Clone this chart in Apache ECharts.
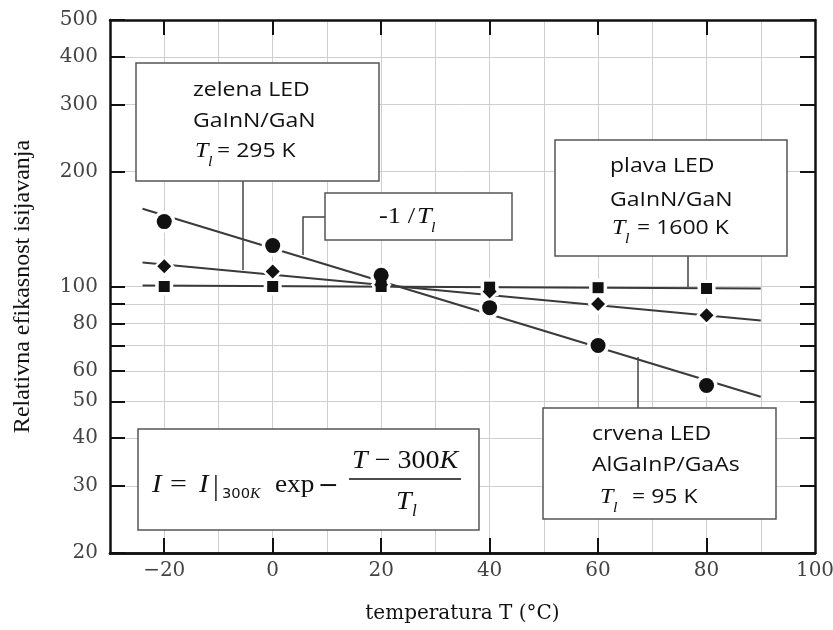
<!DOCTYPE html>
<html><head><meta charset="utf-8">
<script src="https://cdn.jsdelivr.net/npm/echarts@6/dist/echarts.min.js"></script>
<style>html,body{margin:0;padding:0;background:#fff}#c{width:833px;height:630px}</style>
</head><body><div id="c"></div>
<script>
// ---- data ----
const temps = [-20, 0, 20, 40, 60, 80];
const redLED = [148, 128, 107, 88, 70, 55];          // circles, Tl = 95 K
const greenLED = [113, 109.5, 101, 97, 90, 84];      // diamonds, Tl = 295 K
const blueLED = [100, 100, 100, 99.6, 99.3, 98.8];   // squares, Tl = 1600 K
const fitT = [-24, 90];
const redFit = [160, 51.4];
const greenFit = [115.6, 81.4];
const blueFit = [100.6, 98.8];
const xTickLabels = [-20, 0, 20, 40, 60, 80, 100];
const xMajorTicks = [-20, 0, 20, 40, 60, 80];
const yTickLabels = [20, 30, 40, 50, 60, 80, 100, 200, 300, 400, 500];
const yGridValues = [20, 30, 40, 50, 60, 70, 80, 90, 100, 200, 300, 400, 500];

const pair = (xs, ys) => xs.map((x, i) => [x, ys[i]]);
const INK = '#111';
const SX = 1.15;

function fit(ys) {
  return {type: 'line', data: pair(fitT, ys), symbol: 'none', z: 2, silent: true,
          lineStyle: {color: '#3a3a3a', width: 2}};
}
function halo(ys, symbol, size) {
  return {type: 'scatter', data: pair(temps, ys), symbol, symbolSize: size + 7, z: 3, silent: true,
          itemStyle: {color: '#fff', opacity: 1}};
}
function mark(ys, symbol, size) {
  return {type: 'scatter', data: pair(temps, ys), symbol, symbolSize: size, z: 4,
          itemStyle: {color: INK, opacity: 1}};
}

function txt(x, y, s, o) {
  o = o || {};
  return {type: 'text', x, y, z: 102, scaleX: o.sx === undefined ? SX : o.sx,
    style: {x: 0, y: 0, text: s, fontFamily: o.font || 'Open Sans', fontSize: o.size || 20,
            fontStyle: o.italic ? 'italic' : 'normal', fill: INK,
            align: o.align || 'left', verticalAlign: 'middle', rich: o.rich}};
}
function box(x, y, w, h) {
  return {type: 'rect', z: 100, shape: {x, y, width: w, height: h},
          style: {fill: '#fff', stroke: '#555', lineWidth: 1.5}};
}
function pl(points) {
  return {type: 'polyline', z: 99, shape: {points}, style: {stroke: '#444', lineWidth: 1.5, fill: null}};
}
const serif = 'Liberation Serif';
function Tl(x, y, size) {
  size = size || 21;
  return [txt(x, y, 'T', {font: serif, size, italic: true}),
          txt(x + Math.round(size * 0.62), y + 11, 'l', {font: serif, size: 14, italic: true})];
}

const yAxisBase = {
  type: 'log', logBase: 10, min: 20, max: 500,
  axisLine: {show: true, onZero: false, lineStyle: {color: INK, width: 2.5}},
  axisTick: {show: true, inside: true, length: 15, customValues: yGridValues, lineStyle: {color: INK, width: 2}},
  minorTick: {show: false}, minorSplitLine: {show: false}
};
const xTop = {
  type: 'value', min: -30, max: 100,
  axisLine: {show: true, onZero: false, lineStyle: {color: INK, width: 2.5}},
  axisTick: {show: true, inside: true, length: 15, customValues: xMajorTicks, lineStyle: {color: INK, width: 2}},
  axisLabel: {show: false}, splitLine: {show: false}
};

const chart = echarts.init(document.getElementById('c'));
chart.setOption({
  animation: false,
  backgroundColor: '#fff',
  grid: {left: 110, right: 18, top: 20, bottom: 77, containLabel: false, outerBoundsMode: 'none'},
  xAxis: [
    {type: 'value', min: -30, max: 100, interval: 10, position: 'bottom',
     axisLine: {show: true, onZero: false, lineStyle: {color: INK, width: 2.5}},
     axisTick: {show: false},
     splitLine: {show: true, lineStyle: {color: '#cfcfcf', width: 1}},
     axisLabel: {customValues: xTickLabels, formatter: v => String(v).replace('-', '\u2212'),
                 color: '#444', fontFamily: 'DejaVu Serif', fontSize: 20, margin: 8},
     name: 'temperatura T (°C)', nameLocation: 'middle', nameGap: 51,
     nameTextStyle: {fontFamily: 'DejaVu Serif', fontSize: 20, color: INK}},
    Object.assign({position: 'bottom'}, xTop),
    Object.assign({position: 'top'}, xTop)
  ],
  yAxis: [
    Object.assign({}, yAxisBase, {
      position: 'left',
      splitLine: {show: true, lineStyle: {color: '#cfcfcf', width: 1}},
      axisLabel: {customValues: yTickLabels, color: '#444', fontFamily: 'DejaVu Serif', fontSize: 20, margin: 12},
      name: 'Relativna efikasnost isijavanja', nameLocation: 'middle', nameGap: 75, nameRotate: 90,
      nameTextStyle: {fontFamily: serif, fontSize: 24, color: INK}
    }),
    Object.assign({}, yAxisBase, {position: 'right', axisLabel: {show: false}, splitLine: {show: false}})
  ],
  series: [
    fit(blueFit), fit(greenFit), fit(redFit),
    halo(blueLED, 'rect', 11), halo(greenLED, 'diamond', 14), halo(redLED, 'circle', 15),
    mark(blueLED, 'rect', 11), mark(greenLED, 'diamond', 14), mark(redLED, 'circle', 15)
  ],
  graphic: [
    // connectors
    pl([[243, 181], [243, 270]]),
    pl([[325, 217], [303, 217], [303, 255]]),
    pl([[688, 256], [688, 287]]),
    pl([[638, 408], [638, 357]]),
    // boxes
    box(136, 63, 243, 118),
    box(325, 193, 187, 47),
    box(555, 140, 232, 116),
    box(543, 408, 233, 111),
    box(138, 429, 341, 101),
    // zelena
    txt(193, 90, 'zelena LED'), txt(193, 121, 'GaInN/GaN'),
    ...Tl(195, 151), txt(217, 151, '= 295 K'),
    // -1/Tl
    txt(379, 217, '-1 / ', {font: serif, size: 23}),
    ...Tl(417, 217, 23),
    // plava
    txt(610, 166, 'plava LED'), txt(610, 200, 'GaInN/GaN'),
    ...Tl(612, 228), txt(637, 228, '= 1600 K'),
    // crvena
    txt(592, 434, 'crvena LED'), txt(592, 465, 'AlGaInP/GaAs'),
    ...Tl(600, 497), txt(632, 497, '= 95 K'),
    // formula
    txt(152, 485, 'I', {font: serif, size: 26, italic: true, sx: 1.1}),
    txt(170, 485, '=', {font: serif, size: 26, sx: 1.15}),
    txt(199, 485, 'I', {font: serif, size: 26, italic: true, sx: 1.1}),
    txt(213, 487, '|', {font: serif, size: 29, sx: 1}),
    txt(222, 494, '{a|300}{b|K}', {sx: 1.05, rich: {
      a: {fontFamily: 'DejaVu Sans', fontSize: 14, fill: INK},
      b: {fontFamily: serif, fontSize: 15, fontStyle: 'italic', fill: INK}}}),
    txt(275, 485, 'exp', {font: serif, size: 26, sx: 1.05}),
    txt(318, 486, '\u2212', {font: 'DejaVu Serif', size: 25, sx: 1}),
    {type: 'line', z: 102, shape: {x1: 349, y1: 479, x2: 461, y2: 479}, style: {stroke: INK, lineWidth: 1.5}},
    txt(352, 461, '{i|T} \u2212 300{i|K}', {sx: 1.08, rich: {
      i: {fontFamily: serif, fontSize: 26, fontStyle: 'italic', fill: INK}}, font: serif, size: 26}),
    txt(396, 502, 'T', {font: serif, size: 26, italic: true, sx: 1.08}),
    txt(412, 512, 'l', {font: serif, size: 16, italic: true, sx: 1.08})
  ]
});
</script></body></html>
